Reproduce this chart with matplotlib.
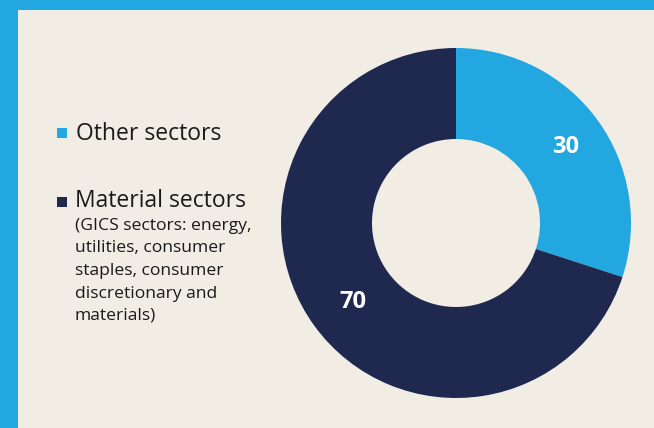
import matplotlib
matplotlib.use("Agg")
import matplotlib.pyplot as plt
from matplotlib.patches import Rectangle
import numpy as np

labels = ["Other sectors", "Material sectors"]
values = [30, 70]
colors = ["#22A7E0", "#1F294F"]
sub_lines = ["(GICS sectors: energy,", "utilities, consumer", "staples, consumer",
             "discretionary and", "materials)"]

W, H = 654, 428
fig = plt.figure(figsize=(W / 100, H / 100), dpi=100)
fig.patch.set_facecolor("#22A7E0")
bg = "#F1ECE4"
bgax = fig.add_axes([18 / W, 0, 1 - 18 / W, (H - 10) / H], zorder=-5)
bgax.set_facecolor(bg)
bgax.set_axis_off()
bgax.add_patch(Rectangle((0, 0), 1, 1, transform=bgax.transAxes,
                         facecolor=bg, edgecolor="none"))

cx, cy, r = 456, 223, 175
ax = fig.add_axes([(cx - r) / W, (H - cy - r) / H, 2 * r / W, 2 * r / H])
ax.set_axis_off()
ax.pie(values, colors=colors, startangle=90, counterclock=False,
       radius=1, wedgeprops=dict(width=0.52, edgecolor="none"))
ax.set_xlim(-1, 1)
ax.set_ylim(-1, 1)
ax.set_aspect("equal")

font = "Open Sans"
cum = np.cumsum([0] + values)
lab_rs = [0.775, 0.73]
for i, v in enumerate(values):
    mid = 90 - (cum[i] + v / 2) / sum(values) * 360
    lr = lab_rs[i]
    ax.annotate(str(v), (lr * np.cos(np.radians(mid)), lr * np.sin(np.radians(mid))),
                xytext=(0, -2.5), textcoords="offset points",
                color="white", fontsize=17, fontweight="bold",
                ha="center", va="center", family=font)

def fx(x):
    return x / W

def fy(y):
    return 1 - y / H

for i, yc in enumerate([133, 202]):
    fig.patches.append(Rectangle((fx(57), fy(yc + 5)), 10 / W, 10 / H,
                                 transform=fig.transFigure, facecolor=colors[i],
                                 edgecolor="none", zorder=5))
fig.text(fx(76), fy(140.5), labels[0], fontsize=16.5, color="#1a1a1a",
         va="baseline", ha="left", family=font)
fig.text(fx(75), fy(207), labels[1], fontsize=16.5, color="#1a1a1a",
         va="baseline", ha="left", family=font)
for k, line in enumerate(sub_lines):
    fig.text(fx(75), fy(230 + 22.5 * k), line, fontsize=12.6, color="#1a1a1a",
             va="baseline", ha="left", family=font)

fig.savefig("out.png", dpi=100, facecolor=fig.get_facecolor())
